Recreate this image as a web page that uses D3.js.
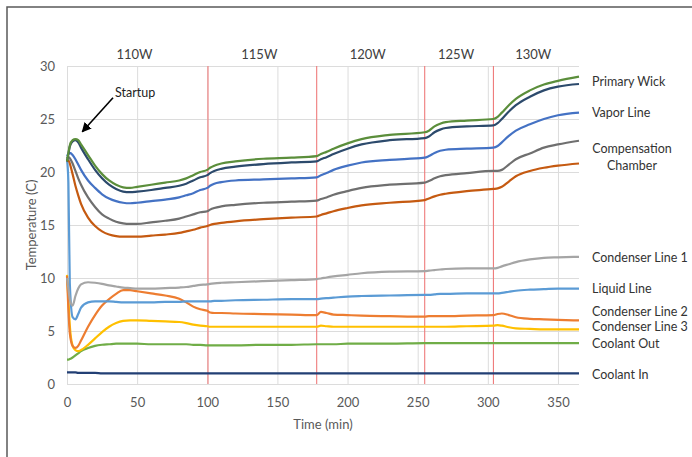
<!DOCTYPE html>
<html>
<head>
<meta charset="utf-8">
<script src="https://cdn.jsdelivr.net/npm/d3@7"></script>
<style>
  html, body { margin: 0; padding: 0; background: #fff; }
  svg { display: block; font-family: Lato, "Open Sans", sans-serif; }
</style>
</head>
<body>
<svg id="chart" width="692" height="457"></svg>
<script>
// Sample times (min) shared by every temperature trace
const time = [0, 1, 2, 4, 6, 8, 10, 15, 20, 25, 30, 35, 40, 45, 50, 60, 70, 80, 85, 90, 95, 100, 102, 105, 110, 120, 140, 160, 178, 181, 185, 190, 200, 210, 230, 255, 258, 262, 266, 270, 285, 304, 307, 310, 315, 320, 330, 340, 350, 365];

// Temperatures (C) at each sample time
const primaryWickA = [21.0, 21.8, 22.5, 23.0, 23.1, 23.0, 22.6, 21.6, 20.6, 19.8, 19.2, 18.8, 18.55, 18.5, 18.6, 18.8, 19.0, 19.2, 19.4, 19.7, 20.0, 20.2, 20.4, 20.6, 20.8, 21.0, 21.25, 21.35, 21.5, 21.7, 21.9, 22.2, 22.7, 23.1, 23.5, 23.75, 23.9, 24.3, 24.55, 24.7, 24.85, 25.0, 25.2, 25.6, 26.3, 26.9, 27.7, 28.25, 28.6, 29.0];
const primaryWickB = [21.0, 21.7, 22.4, 22.9, 23.0, 22.8, 22.3, 21.2, 20.2, 19.4, 18.8, 18.4, 18.15, 18.1, 18.15, 18.3, 18.5, 18.7, 18.9, 19.2, 19.5, 19.7, 19.9, 20.1, 20.3, 20.5, 20.75, 20.9, 21.0, 21.2, 21.4, 21.7, 22.2, 22.6, 23.0, 23.2, 23.35, 23.75, 24.0, 24.15, 24.3, 24.4, 24.6, 25.0, 25.7, 26.3, 27.1, 27.7, 28.05, 28.3];
const vaporLine = [21.5, 21.7, 21.8, 21.6, 21.2, 20.7, 20.2, 19.2, 18.5, 17.9, 17.5, 17.25, 17.1, 17.05, 17.1, 17.25, 17.4, 17.6, 17.8, 18.0, 18.3, 18.5, 18.7, 18.9, 19.05, 19.2, 19.3, 19.4, 19.5, 19.7, 19.9, 20.2, 20.6, 20.9, 21.15, 21.35, 21.5, 21.8, 22.0, 22.1, 22.2, 22.3, 22.45, 22.8, 23.4, 23.9, 24.5, 25.0, 25.35, 25.6];
const compChamberA = [21.3, 21.4, 21.3, 20.8, 20.1, 19.4, 18.8, 17.6, 16.7, 16.0, 15.6, 15.3, 15.15, 15.1, 15.1, 15.25, 15.4, 15.6, 15.8, 16.0, 16.2, 16.3, 16.45, 16.6, 16.75, 16.9, 17.1, 17.2, 17.3, 17.45, 17.6, 17.85, 18.2, 18.5, 18.8, 19.0, 19.15, 19.4, 19.6, 19.7, 19.9, 20.1, 20.1, 20.2, 20.7, 21.2, 21.75, 22.3, 22.6, 22.95];
const compChamberB = [21.0, 21.1, 20.8, 19.8, 18.7, 17.8, 17.0, 15.7, 14.9, 14.4, 14.1, 13.95, 13.9, 13.9, 13.9, 14.0, 14.1, 14.25, 14.4, 14.55, 14.75, 14.9, 15.0, 15.1, 15.2, 15.35, 15.55, 15.7, 15.8, 15.95, 16.1, 16.3, 16.6, 16.85, 17.1, 17.35, 17.5, 17.7, 17.85, 17.95, 18.2, 18.4, 18.45, 18.6, 19.1, 19.6, 20.1, 20.4, 20.6, 20.8];
const condenserLine1 = [10.0, 9.0, 8.0, 7.4, 8.3, 9.0, 9.4, 9.6, 9.55, 9.45, 9.3, 9.2, 9.1, 9.05, 9.0, 9.0, 9.05, 9.1, 9.15, 9.25, 9.35, 9.4, 9.45, 9.5, 9.55, 9.6, 9.7, 9.8, 9.9, 9.95, 10.05, 10.15, 10.3, 10.45, 10.6, 10.65, 10.7, 10.75, 10.8, 10.85, 10.9, 10.9, 10.95, 11.1, 11.3, 11.5, 11.75, 11.9, 11.95, 12.0];
const liquidLine = [21.2, 19.0, 9.5, 6.3, 6.1, 6.6, 7.2, 7.7, 7.8, 7.8, 7.8, 7.75, 7.7, 7.7, 7.7, 7.7, 7.75, 7.75, 7.8, 7.8, 7.8, 7.8, 7.8, 7.85, 7.85, 7.9, 7.95, 8.0, 8.0, 8.05, 8.1, 8.15, 8.25, 8.3, 8.35, 8.4, 8.4, 8.45, 8.5, 8.5, 8.55, 8.55, 8.55, 8.6, 8.7, 8.8, 8.9, 8.95, 9.0, 9.0];
const condenserLine2 = [10.2, 7.0, 4.8, 3.6, 3.4, 3.6, 4.1, 5.4, 6.5, 7.4, 8.0, 8.5, 8.85, 8.85, 8.75, 8.55, 8.35, 8.05, 7.7, 7.3, 7.05, 6.9, 6.75, 6.7, 6.7, 6.65, 6.6, 6.55, 6.5, 6.8, 6.7, 6.55, 6.5, 6.45, 6.4, 6.35, 6.4, 6.4, 6.4, 6.4, 6.45, 6.5, 6.6, 6.65, 6.5, 6.3, 6.15, 6.1, 6.05, 6.0];
const condenserLine3 = [10.3, 8.0, 5.5, 3.6, 3.2, 3.1, 3.2, 3.7, 4.3, 4.9, 5.4, 5.75, 5.95, 6.0, 6.0, 5.95, 5.9, 5.85, 5.75, 5.6, 5.5, 5.45, 5.4, 5.4, 5.4, 5.4, 5.4, 5.4, 5.4, 5.5, 5.45, 5.4, 5.4, 5.4, 5.4, 5.4, 5.4, 5.4, 5.4, 5.4, 5.45, 5.5, 5.55, 5.5, 5.35, 5.25, 5.2, 5.15, 5.15, 5.15];
const coolantOut = [2.3, 2.3, 2.35, 2.5, 2.7, 2.9, 3.1, 3.4, 3.6, 3.7, 3.75, 3.8, 3.8, 3.8, 3.8, 3.75, 3.75, 3.75, 3.75, 3.7, 3.7, 3.65, 3.65, 3.65, 3.65, 3.65, 3.7, 3.7, 3.75, 3.75, 3.75, 3.75, 3.8, 3.8, 3.8, 3.85, 3.85, 3.85, 3.85, 3.85, 3.85, 3.85, 3.85, 3.85, 3.85, 3.85, 3.85, 3.85, 3.85, 3.85];
const coolantIn = [1.1, 1.1, 1.1, 1.1, 1.1, 1.05, 1.05, 1.05, 1.05, 1.0, 1.0, 1.0, 1.0, 1.0, 1.0, 1.0, 1.0, 1.0, 1.0, 1.0, 1.0, 1.0, 1.0, 1.0, 1.0, 1.0, 1.0, 1.0, 1.0, 1.0, 1.0, 1.0, 1.0, 1.0, 1.0, 1.0, 1.0, 1.0, 1.0, 1.0, 1.0, 1.0, 1.0, 1.0, 1.0, 1.0, 1.0, 1.0, 1.0, 1.0];

// Heater power steps: change times (min) and power labels
const stepTimes = [100.5, 178, 255, 304];
const powerLabels = ["110W", "115W", "120W", "125W", "130W"];

// Axis ticks
const xTicks = [0, 50, 100, 150, 200, 250, 300, 350];
const yTicks = [0, 5, 10, 15, 20, 25, 30];

// Right-hand trace labels with the temperature each is centred on
const traceLabels = [
  { lines: ["Primary Wick"], temp: 28.5, center: false },
  { lines: ["Vapor Line"], temp: 25.6, center: false },
  { lines: ["Compensation", "Chamber"], temp: 21.4, center: true },
  { lines: ["Condenser Line 1"], temp: 11.9, center: false },
  { lines: ["Liquid Line"], temp: 9.0, center: false },
  { lines: ["Condenser Line 2"], temp: 6.8, center: false },
  { lines: ["Condenser Line 3"], temp: 5.4, center: false },
  { lines: ["Coolant Out"], temp: 3.8, center: false },
  { lines: ["Coolant In"], temp: 0.85, center: false }
];

// Draw order: bottom traces first
const traces = [
  { values: coolantIn, color: "#223f74" },
  { values: coolantOut, color: "#70ad47" },
  { values: condenserLine3, color: "#ffc000" },
  { values: condenserLine2, color: "#ed7d31" },
  { values: liquidLine, color: "#5b9bd5" },
  { values: condenserLine1, color: "#a5a5a5" },
  { values: compChamberB, color: "#c55a11" },
  { values: compChamberA, color: "#6f6f6f" },
  { values: vaporLine, color: "#4472c4" },
  { values: primaryWickB, color: "#2c4a6c" },
  { values: primaryWickA, color: "#5b8e3b" }
];

const svg = d3.select("#chart");
const plot = { left: 67, right: 579, top: 66, bottom: 384 };

const x = d3.scaleLinear().domain([0, 365]).range([plot.left, plot.right]);
const y = d3.scaleLinear().domain([0, 30]).range([plot.bottom, plot.top]);

// Outer frame (top and left edges)
svg.append("path")
  .attr("d", "M7,457 L7,7 L692,7")
  .attr("fill", "none")
  .attr("stroke", "#5a5a5a")
  .attr("stroke-width", 1.5);

// Gridlines
const grid = svg.append("g");
grid.selectAll("line.h").data(yTicks).join("line")
  .attr("x1", plot.left).attr("x2", plot.right)
  .attr("y1", d => y(d) + 0.5).attr("y2", d => y(d) + 0.5)
  .attr("stroke", "#dcdcdc").attr("stroke-width", 1);
grid.selectAll("line.v").data(xTicks).join("line")
  .attr("x1", d => x(d) + 0.5).attr("x2", d => x(d) + 0.5)
  .attr("y1", plot.top).attr("y2", plot.bottom)
  .attr("stroke", "#dcdcdc").attr("stroke-width", 1);

// Axes (labels only, in the spreadsheet style)
const xAxis = svg.append("g")
  .attr("transform", `translate(0,${plot.bottom})`)
  .call(d3.axisBottom(x).tickValues(xTicks).tickSize(0).tickPadding(14));
const yAxis = svg.append("g")
  .attr("transform", `translate(${plot.left},0)`)
  .call(d3.axisLeft(y).tickValues(yTicks).tickSize(0).tickPadding(12));
[xAxis, yAxis].forEach(a => {
  a.select(".domain").remove();
  a.selectAll("text")
    .attr("fill", "#595959")
    .style("font-family", "Lato, sans-serif")
    .style("font-size", "13px");
});

// Power step markers
svg.append("g").selectAll("line").data(stepTimes).join("line")
  .attr("x1", d => x(d)).attr("x2", d => x(d))
  .attr("y1", plot.top).attr("y2", plot.bottom)
  .attr("stroke", "#ef7b7b").attr("stroke-width", 1.1);

const bounds = [0, ...stepTimes, 365];
svg.append("g").selectAll("text").data(powerLabels).join("text")
  .attr("x", (d, i) => x((bounds[i] + bounds[i + 1]) / 2) - 3)
  .attr("y", 54)
  .attr("dy", "0.35em")
  .attr("text-anchor", "middle")
  .attr("fill", "#404040")
  .style("font-size", "13px")
  .text(d => d);

// Temperature traces
const line = d3.line()
  .x((d, i) => x(time[i]))
  .y(d => y(d))
  .curve(d3.curveMonotoneX);

svg.append("g").selectAll("path").data(traces).join("path")
  .attr("d", d => line(d.values))
  .attr("fill", "none")
  .attr("stroke", d => d.color)
  .attr("stroke-width", 2.2)
  .attr("stroke-linejoin", "round");

// Trace labels on the right
const lbl = svg.append("g").selectAll("text").data(traceLabels).join("text")
  .attr("x", d => d.center ? 632 : 592)
  .attr("y", d => y(d.temp))
  .attr("text-anchor", d => d.center ? "middle" : "start")
  .attr("fill", "#333333")
  .style("font-size", "12.5px");
lbl.selectAll("tspan").data(d => d.lines.map((t, i) => ({ t, i, n: d.lines.length }))).join("tspan")
  .attr("x", function () { return d3.select(this.parentNode).attr("x"); })
  .attr("dy", d => d.i === 0 ? `${0.35 - (d.n - 1) * 0.65}em` : "1.3em")
  .text(d => d.t);

// Startup annotation
svg.append("defs").append("marker")
  .attr("id", "arrowhead")
  .attr("viewBox", "0 0 10 10")
  .attr("refX", 9).attr("refY", 5)
  .attr("markerWidth", 6).attr("markerHeight", 6)
  .attr("orient", "auto")
  .append("path").attr("d", "M0,0 L10,5 L0,10 Z").attr("fill", "#000");

svg.append("line")
  .attr("x1", x(32.8)).attr("y1", y(27.0))
  .attr("x2", x(10.9)).attr("y2", y(23.8))
  .attr("stroke", "#000").attr("stroke-width", 1.6)
  .attr("marker-end", "url(#arrowhead)");

svg.append("text")
  .attr("x", x(34.2)).attr("y", y(27.5))
  .attr("dy", "0.35em")
  .attr("fill", "#222")
  .style("font-size", "12.5px")
  .text("Startup");

// Axis titles
svg.append("text")
  .attr("transform", "translate(31,225) rotate(-90)")
  .attr("text-anchor", "middle")
  .attr("dy", "0.35em")
  .attr("fill", "#595959")
  .style("font-size", "13px")
  .text("Temperature (C)");

svg.append("text")
  .attr("x", 323).attr("y", 424)
  .attr("text-anchor", "middle")
  .attr("dy", "0.35em")
  .attr("fill", "#595959")
  .style("font-size", "13px")
  .text("Time (min)");
</script>
</body>
</html>
